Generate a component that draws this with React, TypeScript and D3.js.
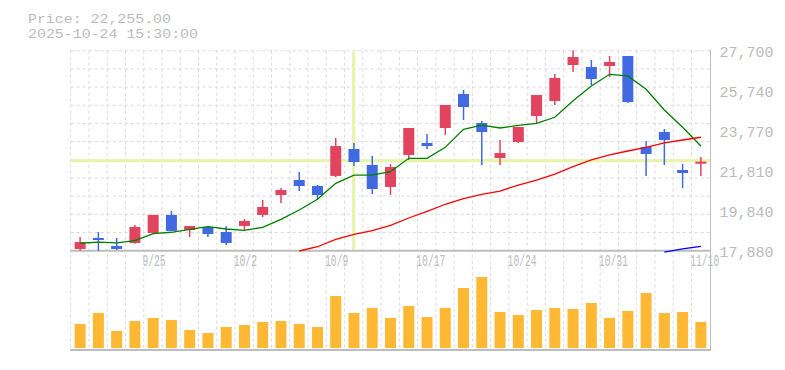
import * as d3 from "d3";

const dates = ["9/18", "9/19", "9/22", "9/24", "9/25", "9/26", "9/29", "9/30", "10/1", "10/2", "10/3", "10/6", "10/7", "10/8", "10/9", "10/10", "10/14", "10/15", "10/16", "10/17", "10/20", "10/21", "10/22", "10/23", "10/24", "10/27", "10/28", "10/29", "10/30", "10/31", "11/4", "11/5", "11/6", "11/7", "11/10"];
const tickLabels = ["9/25", "10/2", "10/9", "10/17", "10/24", "10/31", "11/10"];

const open = [17965, 18505, 18110, 18260, 18750, 19635, 18895, 19045, 18800, 19095, 19635, 20615, 21350, 21055, 21550, 22875, 22090, 21010, 22580, 23170, 23905, 25575, 24150, 22430, 23215, 24495, 25230, 26995, 26900, 26950, 27440, 22970, 23710, 21840, 22150];
const high = [18555, 18800, 18505, 19140, 19635, 19830, 19095, 19095, 19095, 19435, 20370, 20960, 21745, 21105, 23415, 23170, 22530, 22135, 23905, 23610, 25035, 25770, 24250, 23315, 23955, 25525, 26555, 27720, 27245, 27440, 27440, 23265, 23855, 22135, 22480];
const low = [17880, 17880, 17915, 18225, 18700, 18850, 18555, 18555, 18160, 18895, 19535, 20220, 20810, 20370, 21500, 22040, 20665, 20615, 22335, 22875, 23560, 24295, 22090, 22090, 23165, 24150, 25035, 26650, 26015, 26405, 25130, 21550, 22090, 20960, 21550];
const close = [18305, 18405, 17965, 19045, 19635, 18850, 19095, 18700, 18260, 19340, 20025, 20860, 21055, 20615, 23020, 22235, 20910, 21990, 23905, 23020, 25035, 24935, 23710, 22675, 23955, 25525, 26360, 27390, 26310, 27145, 25180, 22625, 23315, 21695, 22255];
const volume = [240, 350, 170, 270, 300, 280, 180, 150, 210, 230, 260, 270, 240, 210, 520, 350, 400, 300, 420, 310, 400, 600, 710, 360, 330, 380, 400, 390, 450, 300, 370, 550, 350, 360, 260];

// moving averages (null = not drawn)
const maShort = [18245, 18305, 18260, 18370, 18715, 18785, 18930, 19060, 18945, 18880, 19030, 19420, 19880, 20405, 21190, 21595, 21595, 21760, 22415, 22415, 22955, 23840, 24050, 23905, 24035, 24135, 24430, 25245, 25965, 26540, 26460, 25805, 24790, 23940, 23020];
const maMid = [null, null, null, null, null, null, null, null, null, null, null, null, 17865, 18075, 18440, 18685, 18860, 19125, 19485, 19815, 20160, 20435, 20650, 20810, 21105, 21350, 21645, 22005, 22335, 22580, 22775, 22955, 23170, 23315, 23450];
const maLong = [null, null, null, null, null, null, null, null, null, null, null, null, null, null, null, null, null, null, null, null, null, null, null, null, null, null, null, null, null, null, null, null, 17815, 17965, 18095];

const priceTicks = [17880, 19840, 21810, 23770, 25740, 27700];
const lastPrice = 22255;
const crossIndex = 15;
const headerTime = "2025-10-24 15:30:00";

const W = 785;
const H = 370;
const left = 71;
const right = 710;
const priceTop = 50.7;
const priceBottom = 250.7;
const volTop = 268;
const volBottom = 348;

const UP = "#e2445f";
const DOWN = "#4169e1";
const GRID = "#d9d9d9";
const AXIS = "#bdbdbd";
const TEXT = "#bbbbbb";
const CROSS = "#e6f5a9";
const FONT = "'Liberation Mono', 'DejaVu Sans Mono', monospace";

export default function App() {
  const idx = d3.range(dates.length);
  const x = d3.scaleBand<number>().domain(idx).range([left, right]).padding(0);
  const y = d3.scaleLinear().domain([priceTicks[0], priceTicks[priceTicks.length - 1]]).range([priceBottom, priceTop]);
  const yv = d3.scaleLinear().domain([0, 800]).range([volBottom, volTop]);

  const step = x.step();
  const bw = 11;
  const cx = (i: number) => (x(i) as number) + step / 2;

  const gridY = d3.range(12).map((k) => priceTicks[0] + (k * (priceTicks[5] - priceTicks[0])) / 11);

  const makeLine = (vals: (number | null)[]) =>
    d3
      .line<number>()
      .defined((i) => vals[i] != null)
      .x((i) => cx(i))
      .y((i) => y(vals[i] as number))(idx) || "";

  const priceText = "Price: " + d3.format(",.2f")(lastPrice);

  return (
    <svg width={W} height={H} style={{ position: "absolute", left: 0, top: 0, background: "#fff" }}>
      {/* header */}
      <text x={28} y={23} fontFamily={FONT} fontSize={13.5} fill={TEXT} textLength={priceText.length * 9 - 1} lengthAdjust="spacingAndGlyphs">
        {priceText}
      </text>
      <text x={28} y={37.5} fontFamily={FONT} fontSize={13.5} fill={TEXT} textLength={headerTime.length * 9 - 1} lengthAdjust="spacingAndGlyphs">
        {headerTime}
      </text>

      {/* grid */}
      {gridY.slice(1).map((v, k) => (
        <line key={"gy" + k} x1={left - 0.3} x2={right} y1={y(v)} y2={y(v)} stroke={GRID} strokeDasharray="3,3" />
      ))}
      {d3.range(dates.length).map((i) => (
        <line key={"gx" + i} x1={(x(i) as number) - 0.3} x2={(x(i) as number) - 0.3} y1={priceTop} y2={volBottom} stroke={GRID} strokeDasharray="3,3" />
      ))}

      {/* crosshair */}
      <line x1={left - 0.3} x2={right} y1={y(lastPrice) - 0.8} y2={y(lastPrice) - 0.8} stroke={CROSS} strokeWidth={3} />
      <line x1={cx(crossIndex) - 0.5} x2={cx(crossIndex) - 0.5} y1={priceTop + 1} y2={priceBottom - 1} stroke={CROSS} strokeWidth={3} />

      {/* axes */}
      <line x1={left - 1} x2={right + 1} y1={priceBottom} y2={priceBottom} stroke={AXIS} strokeWidth={2} />
      <line x1={left - 1} x2={right + 1} y1={350} y2={350} stroke={AXIS} strokeWidth={2} />
      <line x1={right + 0.5} x2={right + 0.5} y1={priceTop - 1} y2={351} stroke={AXIS} strokeWidth={1} />

      {priceTicks.map((v) => (
        <text key={"pt" + v} x={719.5} y={y(v) + 6.5} fontFamily={FONT} fontSize={15} fill={TEXT}>
          {d3.format(",")(v)}
        </text>
      ))}
      {tickLabels.map((t) => {
        const i = dates.indexOf(t);
        return (
          <text
            key={"xt" + t}
            transform={`translate(${(x(i) as number) - 1.6},266) scale(1,1.65)`}
            fontFamily={FONT}
            fontSize={9.7}
            fill={TEXT}
          >
            {t}
          </text>
        );
      })}

      {/* volume */}
      {idx.map((i) => (
        <rect key={"v" + i} x={cx(i) - bw / 2} width={bw} y={yv(volume[i])} height={volBottom - yv(volume[i])} fill="#ffb833" />
      ))}

      {/* candles */}
      {idx.map((i) => {
        const up = close[i] >= open[i];
        const c = up ? UP : DOWN;
        const top = y(Math.max(open[i], close[i]));
        const bot = y(Math.min(open[i], close[i]));
        return (
          <g key={"c" + i}>
            <line x1={cx(i)} x2={cx(i)} y1={y(high[i])} y2={y(low[i])} stroke={c} strokeWidth={1.5} />
            <rect x={cx(i) - bw / 2} width={bw} y={top} height={Math.max(1.5, bot - top)} fill={c} />
          </g>
        );
      })}

      {/* moving averages */}
      <path d={makeLine(maShort)} fill="none" stroke="#008000" strokeWidth={1.3} />
      <path d={makeLine(maMid)} fill="none" stroke="#ff0000" strokeWidth={1.3} />
      <path d={makeLine(maLong)} fill="none" stroke="#0000ff" strokeWidth={1.3} />
    </svg>
  );
}
